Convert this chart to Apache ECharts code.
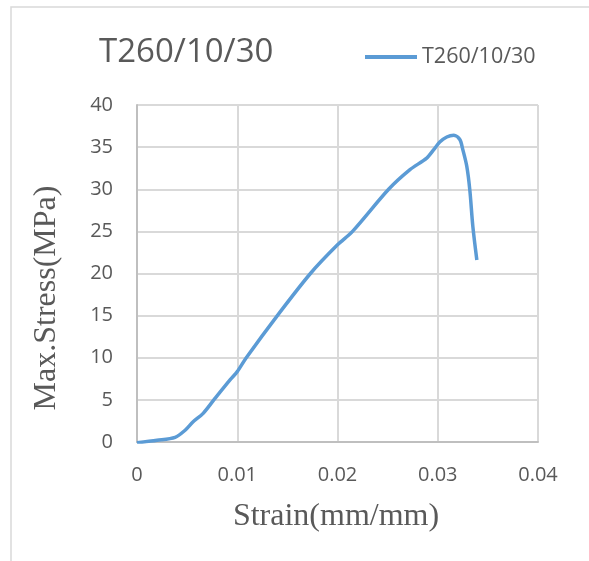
<!DOCTYPE html>
<html>
<head>
<meta charset="utf-8">
<script src="https://cdn.jsdelivr.net/npm/echarts@6/dist/echarts.min.js"></script>
<style>
  html, body { margin: 0; padding: 0; background: #fff; }
  #chart { width: 589px; height: 561px; }
</style>
</head>
<body>
<div id="chart"></div>
<script>
// Stress–strain readings for specimen T260/10/30
const seriesName = 'T260/10/30';
const strain = [0, 0.002, 0.0038, 0.0048, 0.0056, 0.0066, 0.0078, 0.0093, 0.0100, 0.0109,
  0.0140, 0.0173, 0.0200, 0.0215, 0.0251, 0.0272, 0.0289, 0.0296, 0.0302, 0.0309,
  0.0316, 0.0322, 0.0325, 0.0329, 0.0332, 0.0335, 0.0339];
const stress = [-0.1, 0.2, 0.56, 1.4, 2.4, 3.4, 5.2, 7.4, 8.35, 10,
  15, 20, 23.4, 25, 30, 32.3, 33.7, 34.7, 35.6, 36.2,
  36.4, 35.9, 34.7, 32.7, 29.9, 25.6, 21.6];
const xTicks = [0, 0.01, 0.02, 0.03, 0.04];
const yTicks = [0, 5, 10, 15, 20, 25, 30, 35, 40];

const points = strain.map((s, i) => [s, stress[i]]);
const gray = '#595959';

const chart = echarts.init(document.getElementById('chart'));
chart.setOption({
  backgroundColor: '#ffffff',
  animation: false,
  title: {
    text: seriesName,
    left: 94,
    top: 31,
    textStyle: { fontFamily: 'Open Sans', fontSize: 33, fontWeight: 'normal', color: gray }
  },
  legend: {
    data: [seriesName],
    left: 360,
    top: 41,
    itemWidth: 52,
    itemHeight: 4,
    icon: 'rect',
    textStyle: { fontFamily: 'Open Sans', fontSize: 21.5, color: gray }
  },
  grid: { left: 137, top: 105, right: 51, bottom: 119 },
  xAxis: {
    type: 'value',
    min: xTicks[0],
    max: xTicks[xTicks.length - 1],
    interval: 0.01,
    axisLine: { lineStyle: { color: '#bfbfbf', width: 2 } },
    axisTick: { show: false },
    axisLabel: {
      margin: 23, color: gray, fontFamily: 'Open Sans', fontSize: 20,
      formatter: v => String(parseFloat(v.toFixed(2)))
    },
    splitLine: { show: true, lineStyle: { color: '#d9d9d9', width: 2 } }
  },
  yAxis: {
    type: 'value',
    min: yTicks[0],
    max: yTicks[yTicks.length - 1],
    interval: 5,
    axisLine: { show: true, lineStyle: { color: '#bfbfbf', width: 2 } },
    axisTick: { show: false },
    axisLabel: { margin: 24, color: gray, fontFamily: 'Open Sans', fontSize: 20 },
    splitLine: { show: true, lineStyle: { color: '#d9d9d9', width: 2 } }
  },
  series: [{
    name: seriesName,
    type: 'line',
    data: points,
    smooth: 0.3,
    showSymbol: false,
    lineStyle: { color: '#5b9bd5', width: 3.5 },
    itemStyle: { color: '#5b9bd5' }
  }],
  graphic: [
    {
      type: 'rect',
      shape: { x: 11, y: 7, width: 700, height: 700 },
      style: { fill: 'none', stroke: '#d9d9d9', lineWidth: 1.5 },
      silent: true
    },
    {
      type: 'text',
      x: 336, y: 517,
      style: {
        text: 'Strain(mm/mm)', fill: gray,
        font: '32px "Liberation Serif"', textAlign: 'center', textVerticalAlign: 'middle'
      }
    },
    {
      type: 'text',
      x: 47, y: 298, rotation: Math.PI / 2,
      style: {
        text: 'Max.Stress(MPa)', fill: gray,
        font: '32px "Liberation Serif"', textAlign: 'center', textVerticalAlign: 'middle'
      }
    }
  ]
});
</script>
</body>
</html>
